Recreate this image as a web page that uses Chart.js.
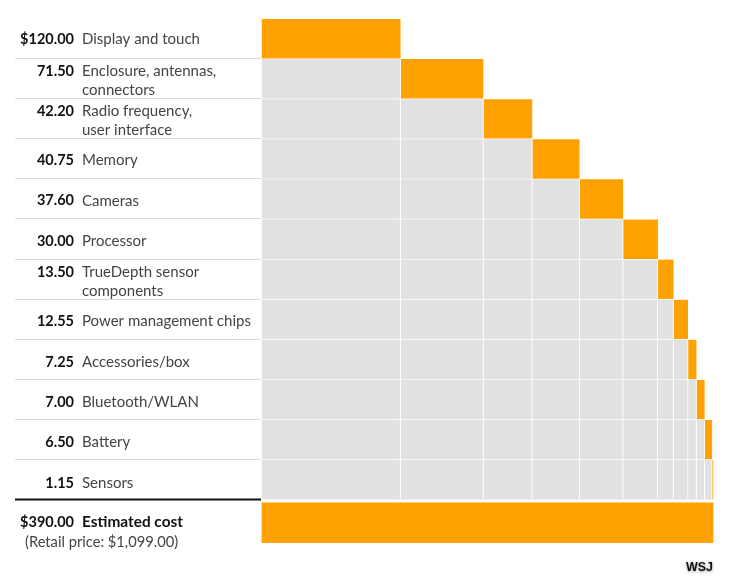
<!DOCTYPE html>
<html lang="en">
<head>
    <meta charset="UTF-8">
    <title>Estimated cost of components</title>
    <script src="https://cdn.jsdelivr.net/npm/chart.js"></script>
    <style>
        body { margin: 0; background: #fff; }
        canvas { display: block; }
    </style>
</head>
<body>
<canvas id="costChart" width="741" height="580"></canvas>

<script>
    const categories = [
        ['Display and touch'],
        ['Enclosure, antennas,', 'connectors'],
        ['Radio frequency,', 'user interface'],
        ['Memory'],
        ['Cameras'],
        ['Processor'],
        ['TrueDepth sensor', 'components'],
        ['Power management chips'],
        ['Accessories/box'],
        ['Bluetooth/WLAN'],
        ['Battery'],
        ['Sensors']
    ];
    const costs = [120, 71.5, 42.2, 40.75, 37.6, 30, 13.5, 12.55, 7.25, 7, 6.5, 1.15];
    const costLabels = ['$120.00', '71.50', '42.20', '40.75', '37.60', '30.00', '13.50', '12.55', '7.25', '7.00', '6.50', '1.15'];
    const totalName = 'Estimated cost';
    const totalCost = 390;
    const totalLabel = '$390.00';
    const retailNote = '(Retail price: $1,099.00)';

    const ORANGE = '#ffa100';
    const GREY = '#e0e1e2';
    const TEXT = '#444';
    const BODY_FONT = '15px Lato';
    const VALUE_FONT = 'bold 14.5px Lato';
    const NAME_FONT = 'bold 15.4px Lato';
    const ROW_HEIGHT = 40.1;
    const TOTAL_ROW = costs.length + 0.07; // total sits a little below the other rows

    // one stacked dataset per component: orange in its own row, grey in the rows below
    const datasets = costs.map((cost, i) => {
        const rows = categories.map((c, row) => row).filter(row => row >= i);
        return {
            data: rows.map(row => ({ x: cost, y: row })),
            backgroundColor: rows.map(row => row === i ? ORANGE : GREY),
            borderColor: '#fff',
            borderWidth: rows.map(row => row === i ? { bottom: 1 } : { right: 1, bottom: 1 }),
            borderSkipped: false,
            barThickness: ROW_HEIGHT
        };
    });
    datasets.push({
        data: [{ x: totalCost, y: TOTAL_ROW }],
        backgroundColor: ORANGE,
        barThickness: ROW_HEIGHT
    });

    const rowLabels = {
        id: 'rowLabels',
        afterDraw(chart) {
            const ctx = chart.ctx;
            const y = chart.scales.y;
            const left = Math.floor(chart.chartArea.left);

            ctx.save();
            ctx.textBaseline = 'middle';

            categories.forEach((lines, i) => {
                // text drifts slightly downwards over the rows in the original
                const mid = y.getPixelForValue(i) + 0.4 + 0.22 * i;
                const twoLines = lines.length > 1;
                ctx.font = VALUE_FONT;
                ctx.fillStyle = '#111';
                ctx.textAlign = 'right';
                ctx.fillText(costLabels[i], 74, twoLines ? mid - 8.7 : mid);

                ctx.font = BODY_FONT;
                ctx.fillStyle = TEXT;
                ctx.textAlign = 'left';
                lines.forEach((line, n) => {
                    const offset = twoLines ? (n === 0 ? -8.7 : 10.3) : 0;
                    ctx.fillText(line, 82, mid + offset);
                });

                const sep = Math.round(y.getPixelForValue(i + 0.5)) - 0.5;
                ctx.strokeStyle = i === costs.length - 1 ? '#111' : '#d8d8d8';
                ctx.lineWidth = i === costs.length - 1 ? 2 : 1;
                ctx.beginPath();
                ctx.moveTo(15, sep);
                ctx.lineTo(left, sep);
                ctx.stroke();
            });

            const totalMid = y.getPixelForValue(TOTAL_ROW);
            ctx.font = VALUE_FONT;
            ctx.fillStyle = '#111';
            ctx.textAlign = 'right';
            ctx.fillText(totalLabel, 74, totalMid - 0.5);
            ctx.font = NAME_FONT;
            ctx.textAlign = 'left';
            ctx.fillText(totalName, 82, totalMid - 0.5);

            ctx.font = '14.7px Lato';
            ctx.fillStyle = TEXT;
            ctx.fillText(retailNote, 25, totalMid + 19.5);

            // WSJ tag
            ctx.font = 'bold 12.5px "Liberation Sans"';
            ctx.textAlign = 'right';
            ctx.fillStyle = '#111';
            ctx.shadowColor = 'rgba(0,0,0,0.4)';
            ctx.shadowBlur = 3;
            ctx.shadowOffsetY = 1;
            ctx.fillText('WSJ', 713, 568);
            ctx.restore();
        }
    };

    new Chart(document.getElementById('costChart'), {
        type: 'bar',
        data: { datasets: datasets },
        options: {
            indexAxis: 'y',
            responsive: false,
            animation: false,
            layout: { padding: { left: 261.5, right: 27.5, top: 19, bottom: 37 } },
            plugins: { legend: { display: false }, tooltip: { enabled: false } },
            scales: {
                x: { type: 'linear', stacked: true, min: 0, max: totalCost, display: false },
                y: { type: 'linear', stacked: true, reverse: true, offset: false, min: -0.5, max: TOTAL_ROW + 0.5, display: false }
            }
        },
        plugins: [rowLabels]
    });
</script>
</body>
</html>
